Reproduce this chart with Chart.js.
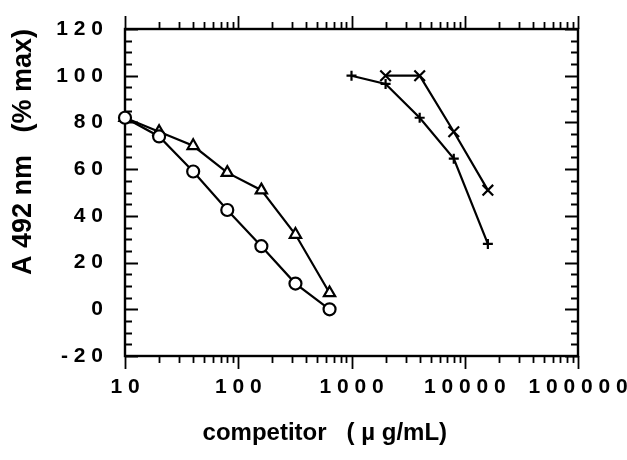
<!DOCTYPE html>
<html>
<head>
<meta charset="utf-8">
<script src="https://cdn.jsdelivr.net/npm/chart.js@4.4.1/dist/chart.umd.min.js"></script>
<style>
  html, body { margin: 0; padding: 0; background: #fff; }
  #wrap { width: 627px; height: 460px; }
</style>
</head>
<body>
<div id="wrap"><canvas id="c" width="627" height="460"></canvas></div>
<script>
// ---- data ----
const circleConc   = [10, 20, 40, 80, 160, 320, 640];
const circleVals   = [82, 74, 59, 42.5, 27, 11, 0];
const triangleConc = [10, 20, 40, 80, 160, 320, 640];
const triangleVals = [82, 76, 70, 58.5, 51, 32, 7];
const plusConc     = [1000, 2000, 4000, 8000, 16000];
const plusVals     = [100, 96.5, 82, 64.5, 28];
const crossConc    = [2000, 4000, 8000, 16000];
const crossVals    = [100, 100, 76, 51];
const xTickValues  = [10, 100, 1000, 10000, 100000];
const yTickValues  = [-20, 0, 20, 40, 60, 80, 100, 120];

const pts = (xs, ys) => xs.map((x, i) => ({ x: x, y: ys[i] }));
const spaced = v => String(v).split('').join(' ');

const FONT = "'Liberation Sans', Arial, Helvetica, sans-serif";

const frameTicks = {
  id: 'frameTicks',
  beforeDatasetsDraw(chart) {
    const { ctx, chartArea: a, scales: { x, y } } = chart;
    ctx.save();
    ctx.strokeStyle = '#000';
    ctx.lineCap = 'butt';
    ctx.lineWidth = 2.4;
    ctx.strokeRect(a.left, a.top, a.right - a.left, a.bottom - a.top);
    ctx.lineWidth = 1.8;
    ctx.beginPath();
    for (let e = 1; e <= 5; e++) {
      for (let m = 1; m <= 9; m++) {
        const v = m * Math.pow(10, e);
        if (v > 100000) break;
        const px = Math.round(x.getPixelForValue(v)) + 0.5;
        const len = m === 1 ? 13 : 7;
        ctx.moveTo(px, a.bottom); ctx.lineTo(px, a.bottom + len);
        ctx.moveTo(px, a.top); ctx.lineTo(px, a.top - len);
      }
    }
    for (let v = -20; v <= 120; v += 5) {
      const py = Math.round(y.getPixelForValue(v)) + 0.5;
      const len = v % 20 === 0 ? 13 : 7;
      ctx.moveTo(a.left, py); ctx.lineTo(a.left + len, py);
      ctx.moveTo(a.right, py); ctx.lineTo(a.right - len, py);
    }
    ctx.stroke();
    ctx.restore();
  }
};

const common = {
  showLine: true,
  borderColor: '#000',
  borderWidth: 2.2,
  pointBorderColor: '#000',
  pointBackgroundColor: '#fff',
  pointBorderWidth: 2.2,
  clip: false
};

new Chart(document.getElementById('c'), {
  type: 'scatter',
  data: {
    datasets: [
      Object.assign({ label: 'circle', data: pts(circleConc, circleVals), pointStyle: 'circle', pointRadius: 6 }, common),
      Object.assign({ label: 'triangle', data: pts(triangleConc, triangleVals), pointStyle: 'triangle', pointRadius: 6.5 }, common),
      Object.assign({ label: 'plus', data: pts(plusConc, plusVals), pointStyle: 'cross', pointRadius: 5 }, common),
      Object.assign({ label: 'x', data: pts(crossConc, crossVals), pointStyle: 'crossRot', pointRadius: 7.5 }, common)
    ]
  },
  options: {
    responsive: false,
    animation: false,
    events: [],
    layout: { padding: { top: 29, right: 49, left: 0, bottom: 0 } },
    plugins: { legend: { display: false }, tooltip: { enabled: false } },
    scales: {
      x: {
        type: 'logarithmic',
        position: 'bottom',
        min: 10,
        max: 100000,
        afterFit: s => { s.height = 104; s.paddingLeft = 0; s.paddingRight = 0; },
        afterBuildTicks: s => { s.ticks = xTickValues.map(v => ({ value: v })); },
        grid: { display: false, drawTicks: false },
        border: { display: false },
        ticks: {
          autoSkip: false,
          maxRotation: 0,
          padding: 19,
          color: '#000',
          font: { family: FONT, size: 21, weight: 'bold' },
          callback: v => spaced(v)
        },
        title: {
          display: true,
          text: 'competitor   ( µ g/mL)        ',
          color: '#000',
          font: { family: FONT, size: 24, weight: 'bold' },
          padding: { top: 0, bottom: 12 }
        }
      },
      y: {
        type: 'linear',
        position: 'left',
        min: -20,
        max: 120,
        afterFit: s => { s.width = 125; s.paddingTop = 0; s.paddingBottom = 0; },
        afterBuildTicks: s => { s.ticks = yTickValues.map(v => ({ value: v })); },
        grid: { display: false, drawTicks: false },
        border: { display: false },
        ticks: {
          autoSkip: false,
          padding: 22,
          color: '#000',
          font: { family: FONT, size: 21, weight: 'bold' },
          callback: v => spaced(v)
        },
        title: {
          display: true,
          text: 'A 492 nm   (% max)',
          align: 'end',
          color: '#000',
          font: { family: FONT, size: 27, weight: 'bold' },
          padding: { top: 7, bottom: 0 }
        }
      }
    }
  },
  plugins: [frameTicks]
});
</script>
</body>
</html>
